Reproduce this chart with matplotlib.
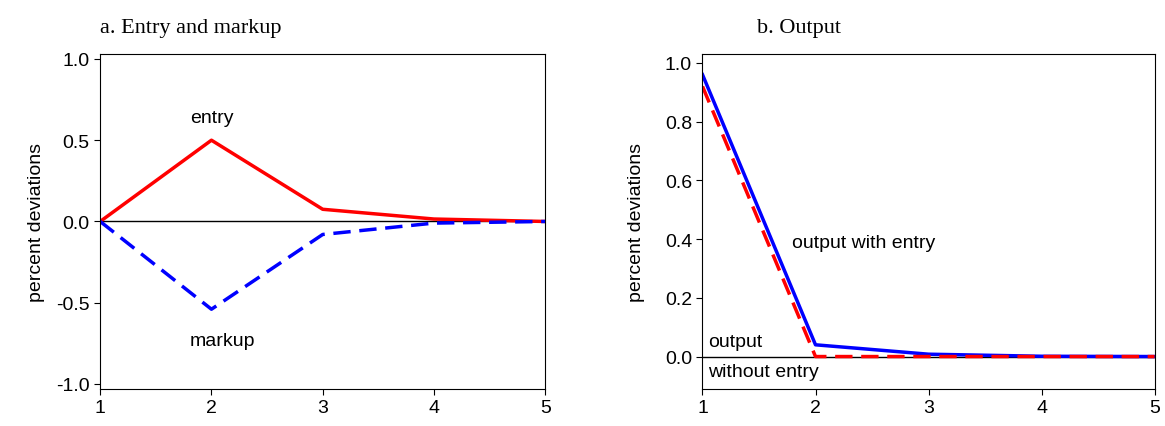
import matplotlib
matplotlib.use("Agg")
import matplotlib.pyplot as plt

periods = [1, 2, 3, 4, 5]
entry = [0.0, 0.5, 0.075, 0.015, 0.0]
markup = [0.0, -0.54, -0.08, -0.01, 0.0]
output_entry = [0.96, 0.04, 0.008, 0.001, 0.0]
output_no_entry = [0.92, 0.0, 0.0, 0.0, 0.0]

plt.rcParams['font.family'] = ['Liberation Sans', 'DejaVu Sans']
plt.rcParams['font.size'] = 14

fig = plt.figure(figsize=(11.65, 4.27), dpi=100)
ax1 = fig.add_axes([0.086, 0.087, 0.382, 0.784])
ax2 = fig.add_axes([0.603, 0.087, 0.388, 0.784])

# panel a
ax1.axhline(0, color='black', lw=1)
ax1.plot(periods, entry, color='red', lw=2.5)
ax1.plot(periods, markup, color='blue', lw=2.5, ls=(0, (5, 2.5)))
ax1.set_xlim(1, 5)
ax1.set_ylim(-1.03, 1.03)
ax1.set_yticks([-1.0, -0.5, 0.0, 0.5, 1.0])
ax1.set_yticklabels(['-1.0', '-0.5', '0.0', '0.5', '1.0'])
ax1.set_xticks(periods)
ax1.set_ylabel('percent deviations', labelpad=8)
ax1.text(2, 0.59, 'entry', ha='center', va='bottom')
ax1.text(2.1, -0.73, 'markup', ha='center', va='center')
ax1.text(0.0, 1.05, 'a. Entry and markup', transform=ax1.transAxes,
         family='Liberation Serif', fontsize=16, ha='left', va='bottom')

# panel b
ax2.axhline(0, color='black', lw=1)
ax2.plot(periods, output_entry, color='blue', lw=2.5)
ax2.plot(periods, output_no_entry, color='red', lw=2.5, ls=(0, (5, 2.5)))
ax2.set_xlim(1, 5)
ax2.set_ylim(-0.11, 1.03)
ax2.set_yticks([0.0, 0.2, 0.4, 0.6, 0.8, 1.0])
ax2.set_yticklabels(['0.0', '0.2', '0.4', '0.6', '0.8', '1.0'])
ax2.set_xticks(periods)
ax2.set_ylabel('percent deviations', labelpad=14)
ax2.text(1.79, 0.39, 'output with entry', ha='left', va='center')
ax2.text(1.05, 0.05, 'output', ha='left', va='center')
ax2.text(1.05, -0.05, 'without entry', ha='left', va='center')
ax2.text(0.12, 1.05, 'b. Output', transform=ax2.transAxes,
         family='Liberation Serif', fontsize=16, ha='left', va='bottom')

for ax in (ax1, ax2):
    ax.tick_params(direction='out', length=4)

fig.savefig('out.png')
